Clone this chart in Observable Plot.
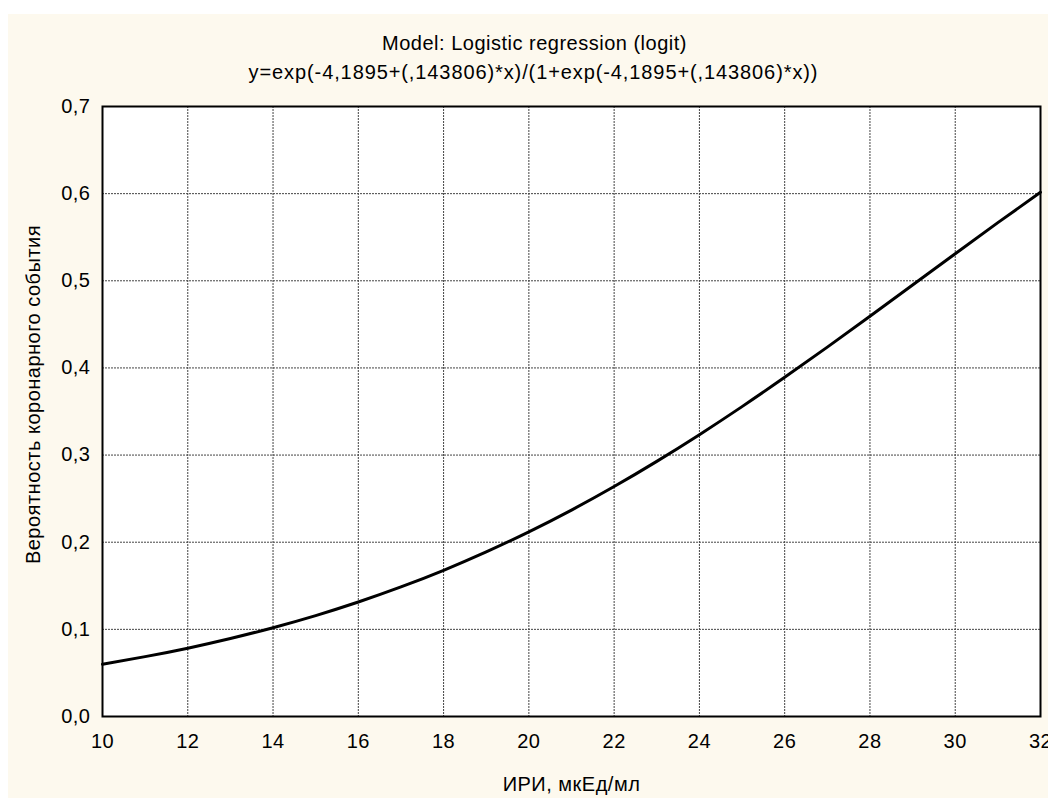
<!DOCTYPE html>
<html>
<head>
<meta charset="utf-8">
<script src="https://cdn.jsdelivr.net/npm/d3@7"></script>
<script src="https://cdn.jsdelivr.net/npm/@observablehq/plot@0.6"></script>
<style>
  html, body { margin: 0; padding: 0; background: #ffffff; }
  #wrap { position: relative; width: 1048px; height: 798px; overflow: hidden; }
  #panel { position: absolute; left: 8px; top: 14px; right: 0; bottom: 0; background: #fdf9ee; }
  #chart { position: absolute; left: 0; top: 0; }
  #chart svg { background: transparent; font-family: "Liberation Sans", Arial, sans-serif; letter-spacing: 0.5px; }
  #chart svg .formula { letter-spacing: 0.9px; }
</style>
</head>
<body>
<div id="wrap"><div id="panel"></div><div id="chart"></div></div>
<script>
// Fitted probability of a coronary event vs. ИРИ (logit model)
const iri = [10, 11, 12, 13, 14, 15, 16, 17, 18, 19, 20, 21, 22, 23, 24, 25, 26, 27, 28, 29, 30, 31, 32];
const probability = [0.0600, 0.0687, 0.0784, 0.0895, 0.1019, 0.1158, 0.1314, 0.1487, 0.1678, 0.1889, 0.2119,
  0.2369, 0.2639, 0.2928, 0.3234, 0.3556, 0.3892, 0.4239, 0.4594, 0.4952, 0.5311, 0.5667, 0.6016];

const xTicks = [10, 12, 14, 16, 18, 20, 22, 24, 26, 28, 30, 32];
const yTicks = [0, 0.1, 0.2, 0.3, 0.4, 0.5, 0.6, 0.7];

const titleLines = [
  "Model: Logistic regression (logit)",
  "y=exp(-4,1895+(,143806)*x)/(1+exp(-4,1895+(,143806)*x))"
];
const xLabel = "ИРИ, мкЕд/мл";
const yLabel = "Вероятность коронарного события";

const points = iri.map((x, i) => ({x, p: probability[i]}));
const comma = s => s.replace(".", ",");
const fs = 20;

const chart = Plot.plot({
  width: 1048,
  height: 798,
  marginLeft: 102,
  marginRight: 8,
  marginTop: 106,
  marginBottom: 82,
  style: {fontSize: fs + "px", fontFamily: "'Liberation Sans', Arial, sans-serif", color: "#000", background: "transparent"},
  x: {domain: [10, 32]},
  y: {domain: [0, 0.7]},
  marks: [
    Plot.frame({fill: "#ffffff", stroke: "none"}),
    Plot.gridX(xTicks.slice(1, -1), {stroke: "#444", strokeOpacity: 1, strokeWidth: 1, strokeDasharray: "2,1"}),
    Plot.gridY(yTicks.slice(1, -1), {stroke: "#444", strokeOpacity: 1, strokeWidth: 1, strokeDasharray: "2,1"}),
    Plot.line(points, {x: "x", y: "p", stroke: "#000", strokeWidth: 3, curve: "natural"}),
    Plot.frame({stroke: "#000", strokeWidth: 2}),
    Plot.axisX(xTicks, {tickSize: 0, tickPadding: 17, fontSize: fs, tickFormat: d => comma(String(d)), label: null}),
    Plot.axisY(yTicks, {tickSize: 0, tickPadding: 12, fontSize: fs, tickFormat: d => comma(d3.format(".1f")(d)), label: null}),
    // two-line model title, centred over the whole panel
    Plot.text([titleLines[0]], {text: d => d, frameAnchor: "top", dx: -37, dy: -71, fontSize: fs}),
    Plot.text([titleLines[1]], {text: d => d, frameAnchor: "top", dx: -38, dy: -42, fontSize: fs, className: "formula"}),
    Plot.text([xLabel], {text: d => d, frameAnchor: "bottom", dy: 74, fontSize: fs}),
    Plot.text([yLabel], {text: d => d, frameAnchor: "left", textAnchor: "middle", dx: -69, dy: -17, rotate: -90, fontSize: fs})
  ]
});
document.getElementById("chart").appendChild(chart);
</script>
</body>
</html>
